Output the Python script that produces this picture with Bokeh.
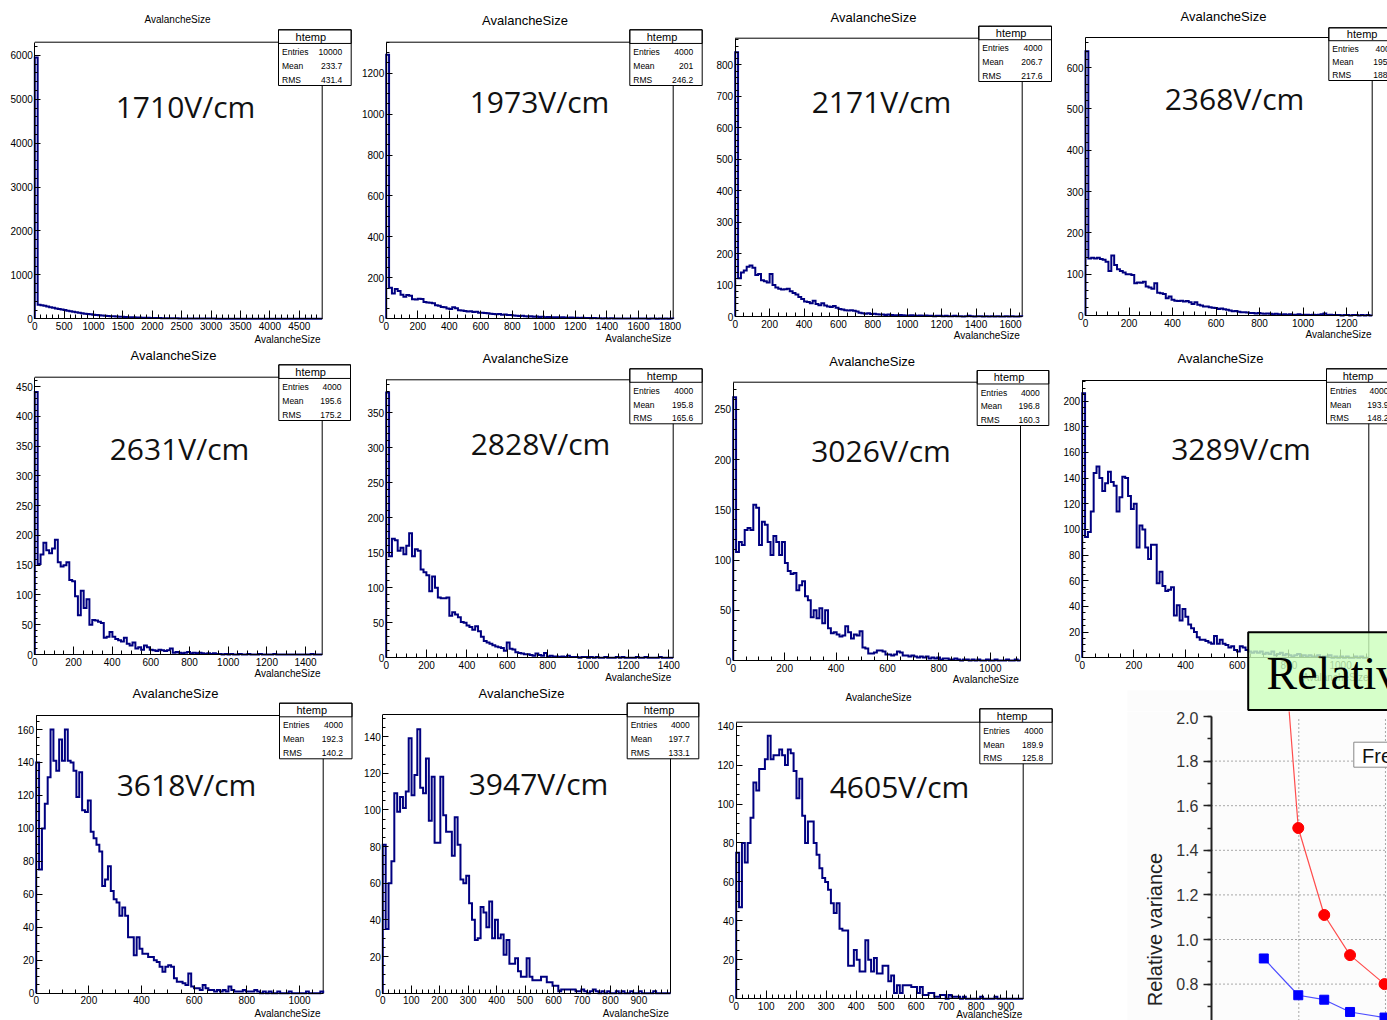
import numpy as np
from bokeh.plotting import figure
from bokeh.layouts import row, column
from bokeh.models import (Range1d, FixedTicker, BoxAnnotation, Label,
                          SingleIntervalTicker, NumeralTickFormatter)
from bokeh.embed import file_html
from bokeh.resources import INLINE

# ---------------- data ----------------
fields = ["1710V/cm", "1973V/cm", "2171V/cm", "2368V/cm", "2631V/cm", "2828V/cm",
          "3026V/cm", "3289V/cm", "3618V/cm", "3947V/cm", "4605V/cm"]
entries = ["10000", "4000", "4000", "4000", "4000", "4000", "4000", "4000", "4000", "4000", "4000"]
means = ["233.7", "201", "206.7", "195.7", "195.6", "195.8", "196.8", "193.9", "192.3", "197.7", "189.9"]
rms_vals = ["431.4", "246.2", "217.6", "188.6", "175.2", "165.6", "160.3", "148.2", "140.2", "133.1", "125.8"]
x_upper = [4890, 1820, 1668, 1318, 1486, 1422, 1117, 1109, 1090, 1011, 957]
y_upper = [6300, 1351, 885, 673, 466, 397, 277, 216, 168.5, 152, 142]

h1710 = [5950, 318, 310, 295, 280, 262, 250, 235, 222, 210,
         198, 183, 172, 160, 148, 136, 126, 116, 108, 102,
         95, 88, 82, 76, 70, 66, 60, 56, 52, 48,
         45, 42, 38, 36, 33, 31, 28, 26, 24, 22,
         21, 19, 18, 16, 15, 14, 13, 12, 11, 10,
         9, 9, 8, 7, 7, 6, 6, 5, 5, 5,
         4, 4, 4, 3, 3, 3, 3, 2, 2, 2,
         2, 2, 2, 1, 1, 2, 1, 1, 1, 1,
         1, 1, 0, 1, 1, 0, 1, 0, 1, 0,
         0, 1, 0, 0, 1, 0, 0, 0, 1, 0]
h1973 = [1290, 152, 124, 146, 136, 118, 108, 116, 112, 96,
         94, 98, 97, 82, 80, 78, 76, 66, 64, 58,
         56, 50, 48, 57, 52, 42, 40, 38, 36, 37,
         33, 34, 30, 29, 28, 27, 25, 24, 22, 23,
         20, 21, 18, 19, 16, 15, 14, 15, 12, 11,
         12, 10, 11, 9, 10, 8, 9, 8, 7, 8,
         6, 7, 6, 5, 6, 5, 5, 4, 5, 4,
         4, 3, 4, 3, 3, 2, 3, 2, 3, 2,
         2, 2, 1, 2, 1, 2, 1, 1, 2, 1,
         1, 0, 1, 1, 0, 1, 0, 1, 0, 1]
h2171 = [840, 122, 140, 146, 158, 162, 155, 132, 135, 115,
         112, 108, 135, 100, 92, 88, 86, 87, 88, 80,
         75, 70, 62, 56, 48, 46, 42, 50, 40, 36,
         42, 35, 32, 30, 33, 28, 24, 22, 20, 19,
         20, 18, 16, 12, 10, 9, 10, 8, 9, 7,
         6, 6, 5, 6, 5, 4, 4, 5, 4, 3,
         3, 4, 3, 2, 3, 2, 3, 2, 2, 1,
         2, 2, 1, 2, 1, 1, 2, 1, 1, 0,
         1, 2, 1, 0, 1, 1, 0, 1, 0, 1,
         0, 1, 0, 0, 1, 0, 1, 0, 0, 1]
h2368 = [640, 138, 140, 138, 140, 137, 135, 130, 108, 145,
         122, 112, 108, 104, 100, 100, 98, 78, 80, 79,
         82, 70, 68, 65, 78, 55, 54, 52, 42, 46,
         38, 36, 35, 36, 34, 35, 32, 28, 32, 26,
         24, 22, 22, 20, 19, 18, 16, 17, 15, 14,
         12, 10, 11, 9, 8, 8, 7, 6, 6, 5,
         6, 5, 4, 5, 4, 3, 4, 3, 2, 3,
         2, 3, 2, 2, 3, 1, 2, 2, 1, 2,
         1, 2, 3, 5, 1, 2, 1, 1, 1, 0,
         1, 1, 0, 1, 1, 0, 1, 0, 1, 0]
h2631 = [441, 152, 168, 188, 175, 170, 178, 193, 155, 148,
         150, 155, 125, 123, 98, 66, 107, 78, 93, 50,
         58, 57, 55, 53, 28, 30, 38, 30, 26, 24,
         22, 28, 18, 15, 20, 10, 12, 8, 15, 12,
         8, 7, 6, 8, 7, 6, 7, 10, 3, 4,
         3, 2, 3, 4, 2, 3, 2, 3, 2, 1,
         2, 1, 2, 1, 1, 0, 1, 0, 1, 0,
         0, 1, 0, 0, 1, 0, 0, 0, 1, 0,
         0, 0, 0, 1, 0, 0, 0, 0, 0, 0,
         0, 0, 0, 0, 0, 0, 1, 0, 0, 0]
h2828 = [379, 145, 170, 168, 153, 157, 148, 160, 178, 145,
         155, 153, 126, 122, 118, 95, 116, 100, 86, 85,
         85, 86, 60, 65, 62, 58, 51, 50, 46, 44,
         40, 45, 38, 30, 24, 22, 20, 18, 16, 15,
         14, 10, 22, 13, 12, 8, 7, 6, 5, 5,
         4, 3, 6, 4, 3, 7, 2, 3, 2, 2,
         1, 2, 1, 3, 1, 1, 1, 0, 1, 1,
         0, 1, 0, 1, 0, 0, 1, 0, 0, 0,
         1, 0, 1, 0, 0, 0, 0, 1, 0, 0,
         1, 0, 0, 0, 0, 1, 0, 0, 0, 0]
h3026 = [262, 108, 118, 115, 130, 132, 130, 155, 152, 115,
         138, 135, 118, 105, 124, 118, 105, 118, 97, 89,
         86, 87, 70, 75, 79, 64, 60, 43, 50, 42,
         52, 37, 50, 32, 27, 28, 26, 24, 25, 34,
         28, 22, 26, 25, 29, 13, 12, 7, 7, 8,
         10, 10, 9, 6, 6, 5, 6, 9, 8, 5,
         5, 4, 5, 4, 3, 4, 3, 4, 2, 3,
         2, 3, 1, 2, 2, 1, 1, 2, 1, 0,
         1, 1, 0, 1, 0, 1, 0, 0, 1, 0,
         0, 1, 0, 0, 0, 1, 0, 0, 1, 0]
h3289 = [206, 94, 98, 114, 144, 149, 140, 130, 136, 145,
         137, 134, 114, 125, 141, 140, 126, 116, 120, 86,
         103, 100, 86, 77, 88, 88, 58, 67, 56, 52,
         53, 55, 33, 41, 29, 38, 32, 26, 23, 20,
         16, 14, 14, 13, 12, 11, 17, 11, 14, 11,
         10, 8, 9, 6, 5, 9, 8, 6, 5, 4,
         5, 4, 5, 3, 4, 3, 5, 2, 3, 4,
         2, 3, 2, 1, 2, 3, 1, 2, 1, 2,
         1, 1, 2, 0, 1, 1, 2, 0, 1, 0,
         1, 0, 1, 0, 0, 1, 0, 1, 0, 0]
h3618 = [140, 75, 100, 115, 131, 160, 141, 135, 154, 141,
         160, 141, 140, 135, 119, 134, 111, 110, 117, 98,
         94, 90, 86, 65, 69, 77, 62, 57, 55, 47,
         52, 47, 34, 34, 23, 34, 27, 24, 24, 22,
         22, 20, 19, 16, 13, 16, 17, 16, 9, 7,
         7, 6, 5, 12, 4, 3, 3, 2, 5, 3,
         2, 2, 1, 2, 1, 2, 1, 4, 2, 1,
         1, 1, 2, 1, 1, 1, 2, 1, 0, 1,
         0, 1, 0, 0, 1, 0, 0, 0, 1, 0,
         0, 0, 0, 0, 1, 0, 0, 0, 0, 1]
h3947 = [81, 35, 60, 72, 109, 99, 107, 101, 110, 139,
         108, 119, 144, 112, 109, 128, 94, 118, 82, 82,
         118, 97, 88, 88, 75, 96, 81, 62, 60, 64,
         49, 40, 29, 30, 47, 44, 36, 50, 30, 40,
         30, 32, 21, 29, 16, 16, 19, 12, 9, 9,
         19, 9, 7, 7, 7, 9, 9, 6, 6, 4,
         4, 1, 2, 2, 2, 2, 2, 1, 1, 2,
         1, 0, 1, 2, 1, 0, 1, 0, 1, 0,
         0, 1, 0, 1, 0, 0, 1, 0, 0, 1,
         0, 0, 0, 0, 1, 0, 0, 0, 0, 0]
h4605 = [75, 47, 80, 70, 80, 93, 111, 107, 118, 118,
         123, 135, 123, 125, 125, 128, 125, 120, 128, 126,
         117, 103, 113, 94, 80, 91, 91, 80, 74, 67,
         62, 60, 56, 49, 44, 49, 36, 35, 35, 17,
         17, 25, 20, 14, 14, 30, 20, 14, 21, 13,
         13, 17, 17, 9, 12, 3, 7, 3, 7, 7,
         7, 6, 6, 3, 6, 2, 2, 3, 3, 1,
         1, 2, 2, 0, 2, 1, 1, 1, 0, 1,
         0, 0, 0, 0, 0, 1, 0, 0, 0, 0,
         1, 0, 0, 0, 0, 0, 0, 0, 0, 0]
counts = [h1710, h1973, h2171, h2368, h2631, h2828, h3026, h3289, h3618, h3947, h4605]

# relative variance chart
rv_field = [1710, 1973, 2171, 2368, 2631]
rv_red = [3.48, 1.50, 1.11, 0.93, 0.80]
rv_blue = [0.915, 0.75, 0.73, 0.675, 0.65]
rv_grid_x = [1977, 2638]
rv_grid_y = [0.8, 1.0, 1.2, 1.4, 1.6, 1.8]

# ---------------- layout / style (page pixel geometry) ----------------
LAY = [
    dict(canvas=(0, 0, 354, 346), frame=(34.3, 41.7, 321.7, 318.3), title=(177, 19, 10), field=(185, 105.5),
         stats=(278, 29.3, 350.7, 85), axt=(320, 339), xt=(500, 5), yt=(1000, 5)),
    dict(canvas=(354, 0, 351, 346), frame=(385.7, 41.7, 672.7, 318.3), title=(524.5, 20, 13), field=(539, 100.8),
         stats=(629.3, 29.3, 701.7, 85), axt=(670.7, 338), xt=(200, 4), yt=(200, 4)),
    dict(canvas=(705, 0, 352, 346), frame=(734.7, 37.7, 1021.7, 316), title=(873, 16.7, 13), field=(881, 100.8),
         stats=(978.3, 25.7, 1051, 81), axt=(1019.3, 334.7), xt=(200, 4), yt=(100, 5)),
    dict(canvas=(1057, 0, 330, 346), frame=(1085, 37, 1371.7, 315), title=(1223, 16, 13), field=(1234, 97.8),
         stats=(1328.3, 27.3, 1403, 80), axt=(1371, 334), xt=(200, 4), yt=(100, 5)),
    dict(canvas=(0, 346, 354, 340), frame=(34.3, 376.7, 321.7, 654), title=(173, 355, 13), field=(179, 447.5),
         stats=(278.3, 364.3, 350, 420), axt=(320, 672.5), xt=(200, 4), yt=(50, 5)),
    dict(canvas=(354, 346, 351, 340), frame=(385.7, 379.3, 672.7, 657.3), title=(525, 358.3, 13), field=(540, 442.5),
         stats=(629.3, 368.3, 701.7, 423.3), axt=(670.7, 677), xt=(200, 4), yt=(50, 5)),
    dict(canvas=(705, 346, 352, 340), frame=(732.7, 381.7, 1020, 660), title=(871.7, 360.7, 13), field=(880.5, 450.3),
         stats=(976.7, 370, 1048.3, 425), axt=(1018.3, 679), xt=(200, 4), yt=(50, 5)),
    dict(canvas=(1057, 346, 330, 365), frame=(1081.7, 380, 1368.3, 657.3), title=(1220, 358, 13), field=(1240.5, 448.3),
         stats=(1326, 368.3, 1397, 423.3), axt=(1368, 677), xt=(200, 4), yt=(20, 4)),
    dict(canvas=(0, 686, 354, 334), frame=(35.7, 715, 322.7, 992.7), title=(175, 693.3, 13), field=(186, 784.2),
         stats=(279, 702.7, 351.5, 758.3), axt=(320, 1012.5), xt=(200, 4), yt=(20, 4)),
    dict(canvas=(354, 686, 351, 334), frame=(382.3, 714, 670, 992.7), title=(521, 693.3, 13), field=(538, 783.3),
         stats=(626.7, 702.7, 698.3, 758.3), axt=(668.3, 1012.5), xt=(100, 5), yt=(20, 4), xcap=900),
    dict(canvas=(705, 686, 352, 334), frame=(735.7, 721.7, 1022.7, 998.3), title=(878, 697.3, 10), field=(899, 785.8),
         stats=(979.3, 708.3, 1051.7, 763.3), axt=(1021.7, 1013.5), xt=(100, 5), yt=(20, 4)),
]

FONT = "Liberation Sans"
HIST_COLOR = "#000080"
PANEL_TINT = "#fcfcfc"


def make_hist(i):
    lay = LAY[i]
    cx, cy, cw, ch = lay["canvas"]
    L, T, R, B = lay["frame"]
    xmax, ymax = x_upper[i], y_upper[i]
    sx = xmax / (R - L)
    sy = ymax / (B - T)

    def dx(px):
        return (px - L) * sx

    def dy(py):
        return (B - py) * sy

    # the whole canvas is the plotting frame; the ROOT-like frame is drawn inside it
    p = figure(width=cw, height=ch,
               x_range=Range1d(dx(cx), dx(cx + cw)), y_range=Range1d(dy(cy + ch), dy(cy)),
               output_backend="svg", toolbar_location=None,
               min_border=0, min_border_left=0, min_border_right=0, min_border_top=0, min_border_bottom=0,
               background_fill_color="white", border_fill_color="white", outline_line_color=None)
    p.title.visible = False
    p.grid.visible = False

    if i == 7:
        # faint backdrop of the pasted chart below
        p.add_layout(BoxAnnotation(left=dx(1127), right=dx(1420), top=dy(690), bottom=dy(720),
                                   fill_color=PANEL_TINT, fill_alpha=1.0, line_alpha=0.0,
                                   level="underlay"))

    xstep, xdiv = lay["xt"]
    ystep, ydiv = lay["yt"]
    xcap = min(xmax, lay.get("xcap", xmax))
    xa, ya = p.xaxis[0], p.yaxis[0]
    xa.fixed_location = 0
    ya.fixed_location = 0
    xa.bounds = (0, xmax)
    ya.bounds = (0, ymax)
    xa.ticker = FixedTicker(ticks=list(np.arange(0, xcap + 1e-6, xstep)),
                            minor_ticks=list(np.arange(0, xmax + 1e-6, xstep / xdiv)))
    ya.ticker = FixedTicker(ticks=list(np.arange(0, ymax + 1e-6, ystep)),
                            minor_ticks=list(np.arange(0, ymax + 1e-6, ystep / ydiv)))
    for ax in (xa, ya):
        ax.axis_line_color = "black"
        ax.axis_line_width = 1
        ax.major_tick_line_color = "black"
        ax.minor_tick_line_color = "black"
        ax.major_tick_out = 0
        ax.minor_tick_out = 0
        ax.major_label_text_font = FONT
        ax.major_label_text_font_size = "10px"
        ax.major_label_text_color = "black"
    xa.major_tick_in = 8
    xa.minor_tick_in = 4
    xa.major_label_standoff = 3
    ya.major_tick_in = 6
    ya.minor_tick_in = 3
    ya.major_label_standoff = 2

    # top and right edges of the histogram frame
    p.line([0, xmax, xmax], [ymax, ymax, 0], line_color="black", line_width=1)

    vals = np.array(counts[i], dtype=float)
    edges = np.linspace(0, xmax, len(vals) + 1)
    xs = np.concatenate([[0.0], np.repeat(edges, 2)[1:-1], [xmax]])
    ys = np.concatenate([[0.0], np.repeat(vals, 2), [0.0]])
    p.line(xs, ys, line_color=HIST_COLOR, line_width=2, line_join="miter")

    # title and axis title
    tcx, tcy, tsz = lay["title"]
    p.add_layout(Label(x=dx(tcx), y=dy(tcy), text="AvalancheSize", text_align="center",
                       text_baseline="middle", text_font=FONT, text_font_size=f"{tsz}px",
                       text_color="black"))
    ar, acy = lay["axt"]
    p.add_layout(Label(x=dx(ar), y=dy(acy), text="AvalancheSize", text_align="right",
                       text_baseline="middle", text_font=FONT, text_font_size="10px",
                       text_color="black"))
    # field label
    fx, fyc = lay["field"]
    p.add_layout(Label(x=dx(fx), y=dy(fyc), text=fields[i], text_align="center",
                       text_baseline="middle", text_font="Open Sans", text_font_size="30px",
                       text_color="#111111"))
    # stats box
    sl, st, sr, sb = lay["stats"]
    H = sb - st
    p.add_layout(BoxAnnotation(left=dx(sl), right=dx(sr), top=dy(st), bottom=dy(sb),
                               fill_color="white", fill_alpha=1.0, line_color="black",
                               line_width=1, line_alpha=1.0))
    p.add_layout(BoxAnnotation(left=dx(sl), right=dx(sr), top=dy(st), bottom=dy(st + 0.245 * H),
                               fill_alpha=0.0, line_color="black", line_width=1, line_alpha=1.0))
    p.add_layout(Label(x=dx((sl + sr) / 2 - 4), y=dy(st + 0.125 * H), text="htemp",
                       text_align="center", text_baseline="middle", text_font=FONT,
                       text_font_size="11px", text_color="black"))
    for k, (nm, vv) in enumerate([("Entries", entries[i]), ("Mean", means[i]), ("RMS", rms_vals[i])]):
        yy = dy(st + (0.40 + 0.25 * k) * H)
        p.add_layout(Label(x=dx(sl + 3.5), y=yy, text=nm, text_align="left", text_baseline="middle",
                           text_font=FONT, text_font_size="8.5px", text_color="black"))
        p.add_layout(Label(x=dx(sr - 9), y=yy, text=vv, text_align="right", text_baseline="middle",
                           text_font=FONT, text_font_size="8.5px", text_color="black"))

    if i == 7:
        # green overlay box (from the next slide element)
        p.add_layout(BoxAnnotation(left=dx(1247.7), right=dx(1420), top=dy(631.7), bottom=dy(709.5),
                                   fill_color="#ccffbb", fill_alpha=0.8, line_color="black",
                                   line_width=2, line_alpha=1.0))
        p.add_layout(Label(x=dx(1266), y=dy(673), text="Relativ", text_align="left",
                           text_baseline="middle", text_font="Liberation Serif",
                           text_font_size="46px", text_color="black"))
    return p


hists = [make_hist(i) for i in range(11)]

# ---------------- relative variance chart ----------------
# canvas: x 1057..1387, y 711..1020 ; plot area starts at x=1211, y=716 (value 2.0)
RV_PX_PER_X = 0.1311
RV_PX_PER_Y = 223.0
RV_AXIS_X = 1311.1          # field value at the y-axis line
rcx, rcy, rcw, rch = 1057, 711, 330, 309


def rdx(px):
    return RV_AXIS_X + (px - 1211) / RV_PX_PER_X


def rdy(py):
    return 2.0 - (py - 716) / RV_PX_PER_Y


rv = figure(width=rcw, height=rch, x_range=Range1d(rdx(rcx), rdx(rcx + rcw)),
            y_range=Range1d(rdy(rcy + rch), rdy(rcy)),
            output_backend="svg", toolbar_location=None, x_axis_location=None,
            min_border=0, min_border_left=0, min_border_right=0, min_border_top=0, min_border_bottom=0,
            outline_line_color=None, background_fill_color="white", border_fill_color="white")
rv.title.visible = False
rv.grid.visible = False

rv.add_layout(BoxAnnotation(left=rdx(1127), right=rdx(1420), top=rdy(rcy), bottom=rdy(rcy + rch),
                            fill_color=PANEL_TINT, fill_alpha=1.0, line_alpha=0.0, level="underlay"))

ya = rv.yaxis[0]
ya.fixed_location = RV_AXIS_X
ya.bounds = (rdy(rcy + rch), 2.0)
ya.ticker = SingleIntervalTicker(interval=0.2, num_minor_ticks=2)
ya.formatter = NumeralTickFormatter(format="0.0")
ya.axis_line_width = 2
ya.axis_line_color = "#222222"
ya.major_tick_out = 8
ya.major_tick_in = 0
ya.minor_tick_out = 4
ya.minor_tick_in = 0
ya.major_tick_line_width = 1.5
ya.minor_tick_line_width = 1.5
ya.major_tick_line_color = "#222222"
ya.minor_tick_line_color = "#222222"
ya.major_label_text_font = FONT
ya.major_label_text_font_size = "16px"
ya.major_label_text_color = "#333333"
ya.major_label_standoff = 5

x_hi = rdx(rcx + rcw)
rv.segment(x0=[RV_AXIS_X] * len(rv_grid_y), y0=rv_grid_y, x1=[x_hi] * len(rv_grid_y), y1=rv_grid_y,
           line_color="#555555", line_dash="1 3", line_width=1)
rv.segment(x0=rv_grid_x, y0=[rdy(rcy + rch)] * len(rv_grid_x), x1=rv_grid_x, y1=[2.0] * len(rv_grid_x),
           line_color="#555555", line_dash="1 3", line_width=1)

rv.line(rv_field, rv_red, line_color="#ff4d4d", line_width=1.2)
rv.scatter(rv_field, rv_red, marker="circle", size=11, fill_color="#ff0000", line_color="#ff0000")
rv.line(rv_field, rv_blue, line_color="#4d4dff", line_width=1.2)
rv.scatter(rv_field, rv_blue, marker="square", size=9, fill_color="#0000ff", line_color="#0000ff")

rv.add_layout(BoxAnnotation(left=rdx(1353.3), right=rdx(1420), top=rdy(741.7), bottom=rdy(766.7),
                            fill_color="white", fill_alpha=1.0, line_color="#888888", line_width=1,
                            line_alpha=1.0))
rv.add_layout(Label(x=rdx(1361.5), y=rdy(755), text="Fre", text_align="left", text_baseline="middle",
                    text_font=FONT, text_font_size="20px", text_color="#111111"))
rv.add_layout(Label(x=rdx(1154), y=rdy(929), text="Relative variance", angle=np.pi / 2,
                    text_align="center", text_baseline="middle", text_font=FONT,
                    text_font_size="20px", text_color="#222222"))

layout = row(column(hists[0], hists[4], hists[8]),
             column(hists[1], hists[5], hists[9]),
             column(hists[2], hists[6], hists[10]),
             column(hists[3], hists[7], rv))

with open("out.html", "w", encoding="utf-8") as f:
    f.write(file_html(layout, INLINE, title="AvalancheSize"))
